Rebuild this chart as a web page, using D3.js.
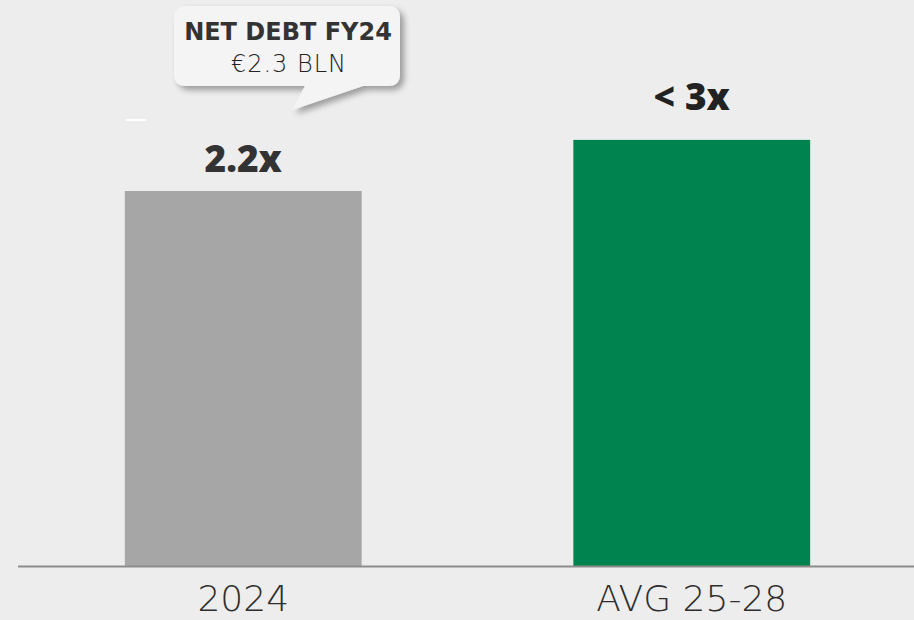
<!DOCTYPE html>
<html>
<head>
<meta charset="utf-8">
<script src="https://cdn.jsdelivr.net/npm/d3@7"></script>
<style>
  html, body { margin: 0; padding: 0; background: #ededed; }
  svg { display: block; }
</style>
</head>
<body>
<div id="chart"></div>
<script>
// ── 資料 ────────────────────────────────────────────────
const categories  = ["2024", "AVG 25-28"];
const leverage    = [2.2, 2.5];          // net debt / EBITDA (bar heights)
const valueLabels = ["2.2x", "< 3x"];
const calloutText = ["NET DEBT FY24", "€2.3 BLN"];

const W = 914, H = 620;
const BASE_Y = 566;
const BAR_COLORS = ["#a6a6a6", "#00834f"];

const svg = d3.select("#chart").append("svg")
  .attr("width", W).attr("height", H)
  .style("background", "#ededed");

const x = d3.scaleBand()
  .domain(categories)
  .range([19, 916])
  .paddingInner(0.472)
  .paddingOuter(0.236);

const y = d3.scaleLinear()
  .domain([0, 3])
  .range([BASE_Y, BASE_Y - 3 * 170.45]);

// ── bars ──
svg.append("g").selectAll("rect")
  .data(categories)
  .join("rect")
  .attr("x", d => x(d))
  .attr("y", (d, i) => y(leverage[i]))
  .attr("width", x.bandwidth())
  .attr("height", (d, i) => BASE_Y - y(leverage[i]))
  .attr("fill", (d, i) => BAR_COLORS[i]);

// ── baseline ──
svg.append("line")
  .attr("x1", 18).attr("x2", W)
  .attr("y1", BASE_Y + 0.5).attr("y2", BASE_Y + 0.5)
  .attr("stroke", "#8c8c8c")
  .attr("stroke-width", 2);

// ── category labels ──
svg.append("g").selectAll("text")
  .data(categories)
  .join("text")
  .attr("x", d => x(d) + x.bandwidth() / 2)
  .attr("y", 611)
  .attr("text-anchor", "middle")
  .attr("font-family", "'DejaVu Sans', sans-serif")
  .attr("font-weight", 200)
  .attr("font-size", 36)
  .attr("fill", "#2e2e2e")
  .text(d => d);

// ── value labels ──
const labelGap = [19, 30];
svg.append("g").selectAll("text")
  .data(valueLabels)
  .join("text")
  .attr("x", (d, i) => x(categories[i]) + x.bandwidth() / 2)
  .attr("y", (d, i) => y(leverage[i]) - labelGap[i])
  .attr("text-anchor", "middle")
  .attr("font-family", "'Open Sans', sans-serif")
  .attr("font-weight", 800)
  .attr("font-size", 37)
  .attr("fill", (d, i) => i === 0 ? "#333" : "#222")
  .text(d => d);

// ── callout bubble ──
const defs = svg.append("defs");
const f = defs.append("filter").attr("id", "shadow")
  .attr("x", "-20%").attr("y", "-20%").attr("width", "140%").attr("height", "160%");
f.append("feDropShadow")
  .attr("dx", 4).attr("dy", 4).attr("stdDeviation", 3)
  .attr("flood-color", "#000").attr("flood-opacity", 0.35);

const bx0 = 174, bx1 = 400, by0 = 6, by1 = 86, r = 12;
const bubble = d3.path();
bubble.moveTo(bx0 + r, by0);
bubble.lineTo(bx1 - r, by0);
bubble.quadraticCurveTo(bx1, by0, bx1, by0 + r);
bubble.lineTo(bx1, by1 - r);
bubble.quadraticCurveTo(bx1, by1, bx1 - r, by1);
bubble.lineTo(363, by1);
bubble.lineTo(292, 110);
bubble.lineTo(305, by1);
bubble.lineTo(bx0 + r, by1);
bubble.quadraticCurveTo(bx0, by1, bx0, by1 - r);
bubble.lineTo(bx0, by0 + r);
bubble.quadraticCurveTo(bx0, by0, bx0 + r, by0);
bubble.closePath();

svg.append("path")
  .attr("d", bubble.toString())
  .attr("fill", "#f4f4f4")
  .attr("filter", "url(#shadow)");

svg.append("text")
  .attr("x", 288).attr("y", 40)
  .attr("text-anchor", "middle")
  .attr("font-family", "'DejaVu Sans', sans-serif")
  .attr("font-weight", 700)
  .attr("font-size", 24)
  .attr("fill", "#333")
  .text(calloutText[0]);

svg.append("text")
  .attr("x", 289).attr("y", 72)
  .attr("text-anchor", "middle")
  .attr("font-family", "'DejaVu Sans', sans-serif")
  .attr("font-weight", 200)
  .attr("font-size", 24)
  .attr("letter-spacing", 1)
  .attr("fill", "#222")
  .text(calloutText[1]);

// 小白色短線（原圖殘留）
svg.append("line")
  .attr("x1", 126).attr("x2", 146)
  .attr("y1", 120).attr("y2", 120)
  .attr("stroke", "#fff").attr("stroke-width", 2);
</script>
</body>
</html>
